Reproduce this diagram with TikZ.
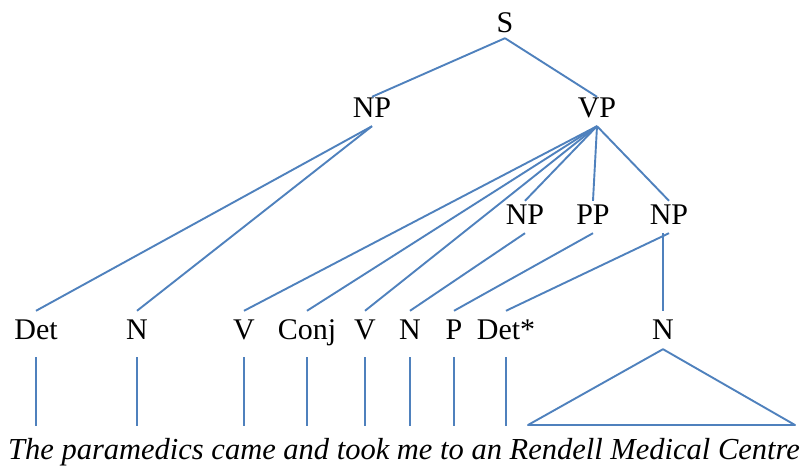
\documentclass[tikz,border=0pt]{standalone}
\usepackage{fontspec}
\setmainfont{Liberation Serif}

\definecolor{treeblue}{RGB}{79,129,189}

\begin{document}
\begin{tikzpicture}[
  x=1pt, y=-1pt,
  every node/.style={font=\fontsize{30}{30}\selectfont, inner sep=0pt, anchor=base},
  cat/.style={text height=24pt, text depth=8pt},
  leaf/.style={text height=29pt, text depth=17pt},
  branch/.style={draw=treeblue, line width=1.9pt, line join=round}
]
  \useasboundingbox (0,0) rectangle (807,473);

  \node[cat, text depth=5pt] (s) at (505,33) {S};
  \node[cat, text height=21pt] (np) at (372,118) {NP};
  \node[cat, text height=21pt] (vp) at (597,118) {VP};
  \node[cat] (np2) at (525,225) {NP};
  \node[cat] (pp) at (593,225) {PP};
  \node[cat] (np3) at (669,225) {NP};

  \node[leaf] (det) at (36,340) {Det};
  \node[leaf] (n1) at (137,340) {N};
  \node[leaf] (v1) at (244,340) {V};
  \node[leaf] (conj) at (307,340) {Conj};
  \node[leaf] (v2) at (365,340) {V};
  \node[leaf] (n2) at (410,340) {N};
  \node[leaf] (p) at (454,340) {P};
  \node[leaf] (dets) at (506,340) {Det*};
  \node[leaf, text depth=9pt] (n3) at (663,340) {N};

  \node[font=\fontsize{30.5}{30.5}\selectfont\itshape] (words) at (404,460)
    {The paramedics came and took me to an Rendell Medical Centre};

  \coordinate (floor) at (0,426);
  \coordinate (tl) at (528,425);
  \coordinate (tr) at (795,425);

  \draw[branch] (s.south) -- (np.north);
  \draw[branch] (s.south) -- (vp.north);
  \draw[branch] (np.south) -- (det.north);
  \draw[branch] (np.south) -- (n1.north);
  \draw[branch] (vp.south) -- (v1.north);
  \draw[branch] (vp.south) -- (conj.north);
  \draw[branch] (vp.south) -- (v2.north);
  \draw[branch] (vp.south) -- (np2.north);
  \draw[branch] (vp.south) -- (pp.north);
  \draw[branch] (vp.south) -- (np3.north);
  \draw[branch] (np2.south) -- (n2.north);
  \draw[branch] (pp.south) -- (p.north);
  \draw[branch] (np3.south) -- (dets.north);
  \draw[branch] (n3.north |- np3.south) -- (n3.north);

  % leaves down to the words
  \foreach \w in {det,n1,v1,conj,v2,n2,p,dets}
    \draw[branch] (\w.south) -- (\w.south |- floor);
  \draw[branch] (n3.south) -- (tl) -- (tr) -- cycle;
\end{tikzpicture}
\end{document}
